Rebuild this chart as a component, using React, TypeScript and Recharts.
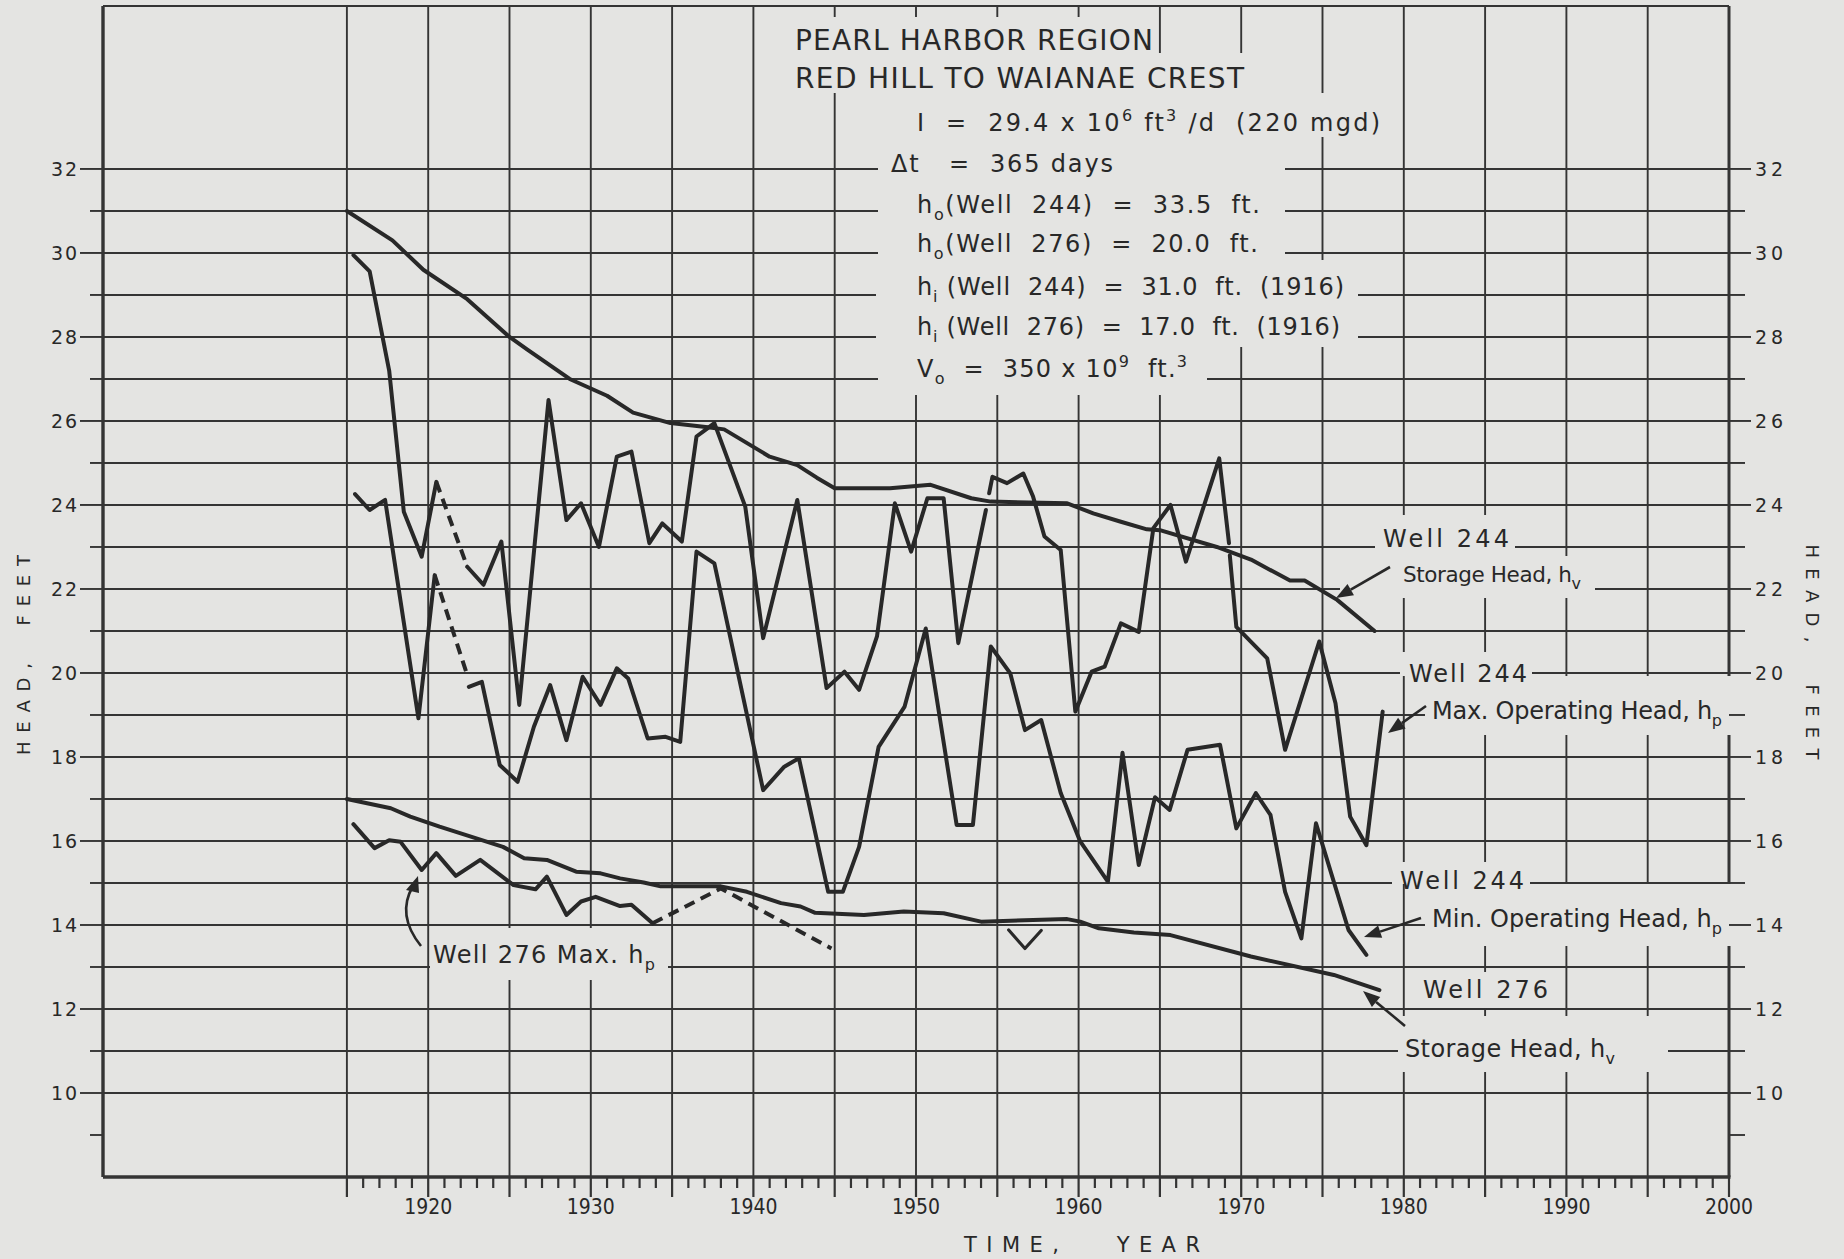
import React from 'react';
import { ComposedChart, Line, XAxis, YAxis, CartesianGrid, ReferenceArea } from 'recharts';

type Pt = [number, number];

// ---------------- data (year, head in feet) ----------------
const storageHead244: Pt[] = [
  [1915.0, 31.0], [1917.8, 30.3], [1919.7, 29.6], [1922.4, 28.9], [1925.0, 28.0],
  [1926.1, 27.7], [1928.7, 27.0], [1931.0, 26.6], [1932.6, 26.2], [1934.9, 25.95],
  [1937.2, 25.85], [1938.2, 25.8], [1941.0, 25.15], [1942.7, 24.95], [1943.9, 24.65],
  [1945.0, 24.4], [1948.4, 24.4], [1950.9, 24.48], [1953.4, 24.16], [1954.6, 24.08],
  [1959.3, 24.04], [1960.9, 23.8], [1962.6, 23.6], [1964.2, 23.42], [1965.0, 23.4],
  [1968.5, 23.0], [1970.6, 22.7], [1973.0, 22.2], [1973.9, 22.2], [1975.9, 21.74], [1978.2, 21.0],
];

const maxHead244A: Pt[] = [
  [1915.4, 29.95], [1916.4, 29.56], [1917.6, 27.2], [1918.5, 23.84], [1919.6, 22.77], [1920.5, 24.55],
];
const maxHead244Dashed: Pt[] = [[1920.5, 24.55], [1922.4, 22.53]];
const maxHead244B: Pt[] = [
  [1922.4, 22.53], [1923.4, 22.1], [1924.5, 23.13], [1925.6, 19.24], [1927.4, 26.5],
  [1928.5, 23.64], [1929.4, 24.04], [1930.5, 23.0], [1931.6, 25.15], [1932.5, 25.27],
  [1933.6, 23.09], [1934.4, 23.56], [1935.6, 23.13], [1936.5, 25.63], [1937.05, 25.79],
  [1937.6, 25.95], [1939.5, 23.96], [1940.6, 20.83], [1942.7, 24.12], [1944.5, 19.64],
  [1945.6, 20.03], [1946.5, 19.6], [1947.6, 20.87], [1948.7, 24.04], [1949.7, 22.89],
  [1950.7, 24.16], [1951.7, 24.16], [1952.6, 20.71], [1954.3, 23.88],
];
const maxHead244C: Pt[] = [
  [1954.5, 24.28], [1954.7, 24.67], [1955.6, 24.52], [1956.6, 24.75], [1957.2, 24.2],
  [1957.9, 23.25], [1958.9, 22.93], [1959.8, 19.08], [1960.8, 20.03], [1961.6, 20.15],
  [1962.6, 21.18], [1963.7, 20.98], [1964.6, 23.45], [1965.65, 24.0], [1966.6, 22.65],
  [1968.65, 25.11], [1969.25, 23.09],
];
const maxHead244D: Pt[] = [
  [1969.3, 22.8], [1969.7, 21.1], [1971.6, 20.35], [1972.7, 18.17], [1974.8, 20.75],
  [1975.8, 19.28], [1976.7, 16.58], [1977.7, 15.9], [1978.7, 19.08],
];

const minHead244A: Pt[] = [
  [1915.5, 24.26], [1916.4, 23.88], [1917.35, 24.12], [1919.4, 18.92], [1920.4, 22.33],
];
const minHead244Dashed: Pt[] = [[1920.4, 22.33], [1922.4, 19.95]];
const minHead244B: Pt[] = [
  [1922.5, 19.67], [1923.3, 19.79], [1924.4, 17.81], [1925.5, 17.41], [1926.5, 18.72],
  [1927.5, 19.71], [1928.5, 18.4], [1929.5, 19.91], [1930.6, 19.24], [1931.6, 20.11],
  [1932.3, 19.87], [1933.5, 18.44], [1934.6, 18.48], [1935.5, 18.36], [1936.5, 22.89],
  [1937.6, 22.61], [1940.6, 17.21], [1941.9, 17.77], [1942.8, 17.97], [1944.6, 14.79],
  [1945.5, 14.79], [1946.5, 15.86], [1947.7, 18.24], [1949.3, 19.2], [1950.6, 21.06],
  [1952.5, 16.38], [1953.5, 16.38], [1954.6, 20.63], [1955.8, 19.99], [1956.7, 18.64],
  [1957.7, 18.88], [1958.9, 17.14], [1960.1, 15.99], [1961.8, 15.03], [1962.7, 18.1],
  [1963.7, 15.43], [1964.7, 17.04], [1965.6, 16.74], [1966.7, 18.17], [1968.7, 18.29],
  [1969.7, 16.3], [1970.9, 17.14], [1971.8, 16.62], [1972.7, 14.79], [1973.7, 13.68],
  [1974.6, 16.42], [1976.6, 13.88], [1977.7, 13.29],
];

const storageHead276: Pt[] = [
  [1915.0, 17.0], [1917.7, 16.78], [1918.9, 16.58], [1920.7, 16.34], [1924.6, 15.86],
  [1925.9, 15.59], [1927.3, 15.55], [1929.1, 15.27], [1930.6, 15.23], [1931.8, 15.11],
  [1933.25, 15.01], [1934.3, 14.92], [1938.0, 14.92], [1939.6, 14.79], [1941.7, 14.52],
  [1942.9, 14.44], [1943.8, 14.29], [1946.8, 14.24], [1949.25, 14.32], [1951.7, 14.28],
  [1954.0, 14.08], [1959.3, 14.14], [1960.1, 14.08], [1961.25, 13.92], [1963.4, 13.82],
  [1965.65, 13.76], [1970.6, 13.25], [1975.7, 12.81], [1978.5, 12.45],
];

const maxHead276: Pt[] = [
  [1915.4, 16.4], [1916.7, 15.83], [1917.6, 16.02], [1918.3, 15.98], [1919.6, 15.31],
  [1920.5, 15.71], [1921.7, 15.17], [1923.2, 15.55], [1925.25, 14.95], [1926.6, 14.85],
  [1927.3, 15.15], [1928.5, 14.24], [1929.4, 14.56], [1930.3, 14.67], [1931.8, 14.45],
  [1932.5, 14.48], [1933.8, 14.04],
];
const maxHead276Dashed: Pt[] = [[1933.8, 14.04], [1938.0, 14.87], [1944.8, 13.44]];

const checkMark: Pt[] = [[1955.7, 13.88], [1956.7, 13.44], [1957.7, 13.87]];

// ---------------- axes ----------------
const xLabelYears = [1920, 1930, 1940, 1950, 1960, 1970, 1980, 1990, 2000];
const xGridYears = [1915, 1920, 1925, 1930, 1935, 1940, 1945, 1950, 1955, 1960, 1965, 1970, 1975, 1980, 1985, 1990, 1995];
const yLabelFeet = [10, 12, 14, 16, 18, 20, 22, 24, 26, 28, 30, 32];
const yGridFeet = [10, 11, 12, 13, 14, 15, 16, 17, 18, 19, 20, 21, 22, 23, 24, 25, 26, 27, 28, 29, 30, 31, 32];
const yTickFeet = [9, ...yGridFeet];
const xMinorYears: number[] = [];
for (let y = 1915; y <= 2000; y++) xMinorYears.push(y);

// ---------------- layout ----------------
const W = 1844;
const H = 1259;
const PLOT = { left: 103, right: 1729, top: 6, bottom: 1177 };
const X_DOMAIN: [number, number] = [1900, 2000];
const Y_DOMAIN: [number, number] = [8, 35.88];
const PAPER = '#e4e4e2';
const INK = '#282828';
const GRID = '#343434';
const FONT = "'DejaVu Sans', 'Liberation Sans', sans-serif";

const xOf = (p: number) => X_DOMAIN[0] + ((p - PLOT.left) / (PLOT.right - PLOT.left)) * (X_DOMAIN[1] - X_DOMAIN[0]);
const yOf = (p: number) => Y_DOMAIN[0] + ((PLOT.bottom - p) / (PLOT.bottom - PLOT.top)) * (Y_DOMAIN[1] - Y_DOMAIN[0]);

// white-out boxes behind lettering (pixel rects: x1, y1, x2, y2)
const masks: [number, number, number, number][] = [
  [790, 17, 1156, 53],
  [790, 53, 1250, 93],
  [878, 93, 1385, 137],
  [878, 137, 1285, 260],
  [876, 260, 1358, 347],
  [878, 347, 1207, 395],
  [1375, 515, 1515, 556],
  [1340, 556, 1595, 598],
  [1400, 652, 1532, 676],
  [1425, 676, 1733, 735],
  [1392, 862, 1530, 884],
  [1425, 884, 1733, 946],
  [1415, 972, 1555, 1008],
  [1398, 1016, 1668, 1072],
  [430, 928, 668, 980],
];

const toData = (pts: Pt[]) => pts.map(([year, v]) => ({ year, v }));

const seriesList: { id: string; pts: Pt[]; dashed?: boolean; width?: number }[] = [
  { id: 'st244', pts: storageHead244 },
  { id: 'mx244a', pts: maxHead244A },
  { id: 'mx244d', pts: maxHead244Dashed, dashed: true },
  { id: 'mx244b', pts: maxHead244B },
  { id: 'mx244c', pts: maxHead244C },
  { id: 'mx244e', pts: maxHead244D },
  { id: 'mn244a', pts: minHead244A },
  { id: 'mn244d', pts: minHead244Dashed, dashed: true },
  { id: 'mn244b', pts: minHead244B },
  { id: 'st276', pts: storageHead276 },
  { id: 'mx276', pts: maxHead276 },
  { id: 'mx276d', pts: maxHead276Dashed, dashed: true },
  { id: 'check', pts: checkMark, width: 3.2 },
];

// ---------------- ticks ----------------
const XTick = (props: any) => {
  const { x, payload } = props;
  const yr = payload.value as number;
  const major = yr % 5 === 0;
  return (
    <g>
      <line x1={x} x2={x} y1={PLOT.bottom} y2={PLOT.bottom + (major ? 20 : 11)} stroke={GRID} strokeWidth={2.2} />
      {xLabelYears.includes(yr) && (
        <text x={x} y={1214} textAnchor="middle" fontFamily={FONT} fontSize={22} fill={INK}
          textLength={48} lengthAdjust="spacingAndGlyphs">{yr}</text>
      )}
    </g>
  );
};

const LeftTick = (props: any) => {
  const { y, payload } = props;
  const v = payload.value as number;
  const labeled = yLabelFeet.includes(v);
  return (
    <g>
      <line x1={labeled ? 80 : 90} x2={PLOT.left} y1={y} y2={y} stroke={GRID} strokeWidth={1.9} />
      {labeled && (
        <text x={77} y={y + 7} textAnchor="end" fontFamily={FONT} fontSize={19} fill={INK}
          textLength={26} lengthAdjust="spacing">{v}</text>
      )}
    </g>
  );
};

const RightTick = (props: any) => {
  const { y, payload } = props;
  const v = payload.value as number;
  const labeled = yLabelFeet.includes(v);
  return (
    <g>
      <line x1={PLOT.right} x2={labeled ? 1751 : 1745} y1={y} y2={y} stroke={GRID} strokeWidth={1.9} />
      {labeled && (
        <text x={1755} y={y + 7} textAnchor="start" fontFamily={FONT} fontSize={19} fill={INK}
          textLength={28} lengthAdjust="spacing">{v}</text>
      )}
    </g>
  );
};

// ---------------- annotation pieces ----------------
const Arrow = ({ x1, y1, x2, y2 }: { x1: number; y1: number; x2: number; y2: number }) => {
  const dx = x2 - x1, dy = y2 - y1;
  const len = Math.hypot(dx, dy);
  const ux = dx / len, uy = dy / len;
  const hl = 17, hw = 6.5;
  const bx = x2 - ux * hl, by = y2 - uy * hl;
  return (
    <g>
      <line x1={x1} y1={y1} x2={bx} y2={by} stroke={INK} strokeWidth={2.6} />
      <polygon points={`${x2},${y2} ${bx - uy * hw},${by + ux * hw} ${bx + uy * hw},${by - ux * hw}`} fill={INK} />
    </g>
  );
};

type Seg = { t: string; s?: 'sub' | 'sup' };
const Rich = ({ x, y, len, size = 24, segs }: { x: number; y: number; len?: number; size?: number; segs: Seg[] }) => {
  let cur = 0;
  return (
    <text x={x} y={y} fontFamily={FONT} fontSize={size} fill={INK}
      textLength={len} lengthAdjust={len ? 'spacing' : undefined} style={{ whiteSpace: 'pre' }}>
      {segs.map((g, i) => {
        const target = g.s === 'sub' ? 7 : g.s === 'sup' ? -10 : 0;
        const dy = target - cur;
        cur = target;
        return (
          <tspan key={i} dy={dy === 0 ? undefined : dy} fontSize={g.s ? 16 : undefined}>{g.t}</tspan>
        );
      })}
    </text>
  );
};

const FrameShape = () => (
  <g>
    <line x1={PLOT.left} x2={PLOT.right} y1={PLOT.top} y2={PLOT.top} stroke={GRID} strokeWidth={2} />
    <line x1={PLOT.left} x2={PLOT.right + 1.5} y1={PLOT.bottom} y2={PLOT.bottom} stroke={GRID} strokeWidth={3.6} />
    <line x1={PLOT.left} x2={PLOT.left} y1={PLOT.top} y2={PLOT.bottom} stroke={GRID} strokeWidth={3.4} />
    <line x1={PLOT.right} x2={PLOT.right} y1={PLOT.top} y2={PLOT.bottom} stroke={GRID} strokeWidth={3} />
  </g>
);

const MaskShape = () => (
  <g>
    {masks.map(([a, b, c, d], i) => (
      <rect key={i} x={a} y={b} width={c - a} height={d - b} fill={PAPER} />
    ))}
  </g>
);

const LabelShape = () => (
  <g>
    <Rich x={795} y={49.5} size={28} len={358} segs={[{ t: 'PEARL HARBOR REGION' }]} />
    <Rich x={795} y={87.5} size={28} len={449} segs={[{ t: 'RED HILL TO WAIANAE CREST' }]} />
    <Rich x={917} y={131} len={463} segs={[{ t: 'I  =  29.4 x 10' }, { t: '6', s: 'sup' }, { t: ' ft' }, { t: '3', s: 'sup' }, { t: ' /d  (220 mgd)' }]} />
    <Rich x={891} y={172} len={222} segs={[{ t: '\u0394t   =  365 days' }]} />
    <Rich x={917} y={213} len={343} segs={[{ t: 'h' }, { t: 'o', s: 'sub' }, { t: '(Well  244)  =  33.5  ft.' }]} />
    <Rich x={917} y={252} len={341} segs={[{ t: 'h' }, { t: 'o', s: 'sub' }, { t: '(Well  276)  =  20.0  ft.' }]} />
    <Rich x={917} y={295} len={427} segs={[{ t: 'h' }, { t: 'i', s: 'sub' }, { t: ' (Well  244)  =  31.0  ft.  (1916)' }]} />
    <Rich x={917} y={335} len={423} segs={[{ t: 'h' }, { t: 'i', s: 'sub' }, { t: ' (Well  276)  =  17.0  ft.  (1916)' }]} />
    <Rich x={917} y={377} len={270} segs={[{ t: 'V' }, { t: 'o', s: 'sub' }, { t: '  =  350 x 10' }, { t: '9', s: 'sup' }, { t: '  ft.' }, { t: '3', s: 'sup' }]} />

    <Rich x={1383} y={547} len={126} segs={[{ t: 'Well 244' }]} />
    <Rich x={1403} y={582} size={21.5} len={178} segs={[{ t: 'Storage Head, h' }, { t: 'v', s: 'sub' }]} />
    <Rich x={1409} y={682} len={118} segs={[{ t: 'Well 244' }]} />
    <Rich x={1432} y={719} len={290} segs={[{ t: 'Max. Operating Head, h' }, { t: 'p', s: 'sub' }]} />
    <Rich x={1400} y={889} len={124} segs={[{ t: 'Well 244' }]} />
    <Rich x={1432} y={927} len={290} segs={[{ t: 'Min. Operating Head, h' }, { t: 'p', s: 'sub' }]} />
    <Rich x={1423} y={998} len={125} segs={[{ t: 'Well 276' }]} />
    <Rich x={1405} y={1057} len={210} segs={[{ t: 'Storage Head, h' }, { t: 'v', s: 'sub' }]} />
    <Rich x={433} y={963} len={222} segs={[{ t: 'Well 276 Max. h' }, { t: 'p', s: 'sub' }]} />

    <Arrow x1={1390} y1={567} x2={1336} y2={598} />
    <Arrow x1={1426} y1={706} x2={1388} y2={733} />
    <Arrow x1={1421} y1={918} x2={1364} y2={937} />
    <Arrow x1={1405} y1={1026} x2={1363} y2={991} />
    <path d="M 421 946 Q 396 915 413 886" stroke={INK} strokeWidth={2.6} fill="none" />
    <polygon points="418,876 406,890 419,893" fill={INK} />

    <text x={1082} y={1252} textAnchor="middle" fontFamily={FONT} fontSize={21} fill={INK}
      textLength={236} lengthAdjust="spacing" style={{ whiteSpace: 'pre' }}>{'TIME,   YEAR'}</text>
    <text transform="translate(30 655) rotate(-90)" textAnchor="middle" fontFamily={FONT} fontSize={18} fill={INK}
      textLength={200} lengthAdjust="spacing" style={{ whiteSpace: 'pre' }}>{'HEAD,  FEET'}</text>
    <text transform="translate(1806 652) rotate(90)" textAnchor="middle" fontFamily={FONT} fontSize={18} fill={INK}
      textLength={215} lengthAdjust="spacing" style={{ whiteSpace: 'pre' }}>{'HEAD,  FEET'}</text>
  </g>
);

export default function App() {
  return (
    <div style={{ position: 'absolute', left: 0, top: 0, width: W, height: H, background: PAPER, overflow: 'hidden' }}>
      <ComposedChart width={W} height={H} margin={{ top: PLOT.top, right: 0, bottom: 0, left: 0 }}>
        <CartesianGrid verticalValues={xGridYears} horizontalValues={yGridFeet} stroke={GRID} strokeWidth={1.9} />
        <XAxis dataKey="year" type="number" domain={X_DOMAIN} allowDataOverflow ticks={xMinorYears} interval={0}
          tick={(p: any) => <XTick {...p} />} tickLine={false} axisLine={false} height={H - PLOT.bottom} />
        <YAxis type="number" domain={Y_DOMAIN} allowDataOverflow ticks={yTickFeet} interval={0} width={PLOT.left}
          tick={(p: any) => <LeftTick {...p} />} tickLine={false} axisLine={false} />
        <YAxis yAxisId="right" orientation="right" type="number" domain={Y_DOMAIN} allowDataOverflow ticks={yTickFeet}
          interval={0} width={W - PLOT.right} tick={(p: any) => <RightTick {...p} />} tickLine={false} axisLine={false} />
        <ReferenceArea x1={X_DOMAIN[0]} x2={X_DOMAIN[1]} y1={Y_DOMAIN[0]} y2={Y_DOMAIN[1]} ifOverflow="visible" shape={() => <FrameShape />} />
        <ReferenceArea x1={xOf(PLOT.left + 1)} x2={xOf(PLOT.right - 1)} y1={yOf(PLOT.bottom - 1)} y2={yOf(PLOT.top + 1)} ifOverflow="visible" shape={() => <MaskShape />} />
        {seriesList.map((s) => (
          <Line key={s.id} data={toData(s.pts)} dataKey="v" type="linear" stroke={INK}
            strokeWidth={s.width ?? 4} strokeDasharray={s.dashed ? '11 7' : undefined}
            strokeLinejoin="round" strokeLinecap={s.dashed ? 'butt' : 'round'} dot={false} activeDot={false} isAnimationActive={false} />
        ))}
        <ReferenceArea x1={X_DOMAIN[0]} x2={X_DOMAIN[1]} y1={Y_DOMAIN[0]} y2={Y_DOMAIN[1]} ifOverflow="visible" shape={() => <LabelShape />} />
      </ComposedChart>
    </div>
  );
}
